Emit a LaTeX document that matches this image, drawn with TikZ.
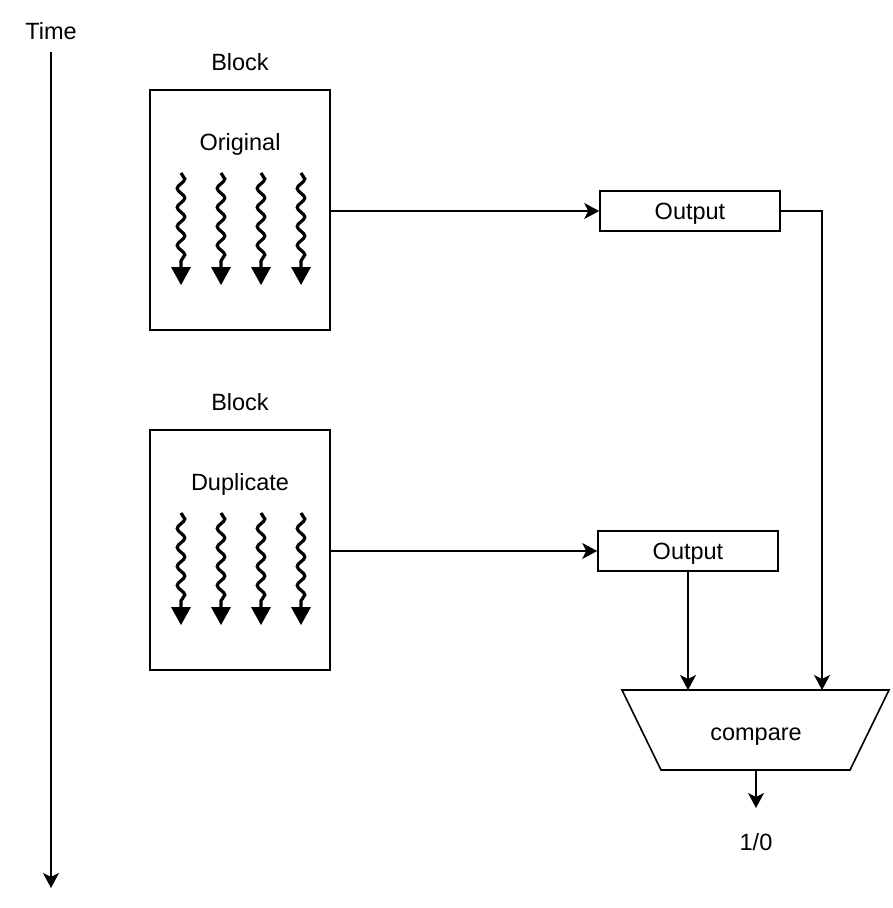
\documentclass[tikz,border=0pt]{standalone}
\usepackage{fontspec}
\setmainfont{Liberation Sans}
\usetikzlibrary{arrows.meta,decorations.pathmorphing}
\begin{document}
\begin{tikzpicture}[x=1pt,y=-1pt,
  every node/.style={font=\fontsize{23.5}{27}\selectfont, inner sep=0pt,
    text height=16.8pt, text depth=0pt},
  box/.style={draw, line width=1.6pt, inner sep=0pt},
  conn/.style={line width=1.6pt, -{Stealth[length=15pt,width=16pt,inset=4pt]}},
  wave/.style={line width=3.2pt, decorate,
    decoration={snake, amplitude=3.8pt, segment length=19pt}},
]
\useasboundingbox (0,0) rectangle (892,908);

% time axis
\node (time) at (51,31) {Time};
\coordinate (tStart) at (51,52);
\coordinate (tEnd) at (51,888);
\draw[conn] (tStart) -- (tEnd);

% original block
\node (blk1) at (240,62) {Block};
\node[box, minimum width=180pt, minimum height=240pt, text height=0pt] (orig) at (240,210) {};
\node (origlbl) at (240,142) {Original};

% duplicate block
\node (blk2) at (240,402) {Block};
\node[box, minimum width=180pt, minimum height=240pt, text height=0pt] (dup) at (240,550) {};
\node (duplbl) at (240,482) {Duplicate};

% threads inside the blocks
\foreach \y in {173,513} {
  \foreach \x in {181,221,261,301} {
    \draw[wave] (\x,\y) -- (\x,\y+95);
    \fill (\x-10,\y+94) -- (\x+10,\y+94) -- (\x,\y+112) -- cycle;
  }
}

% outputs
\node[box, minimum width=180pt, minimum height=40pt] (out1) at (690,211) {Output};
\node[box, minimum width=180pt, minimum height=40pt] (out2) at (688,551) {Output};

% comparator
\draw[line width=1.6pt] (622,690) -- (889,690) -- (850,770) -- (661,770) -- cycle;
\node (cmp) at (756,732) {compare};
\coordinate (cmpA) at (688,690);
\coordinate (cmpB) at (822,690);
\coordinate (cmpOut) at (756,770);
\coordinate (resTip) at (756,808);
\node (res) at (756,842) {1/0};

% connectors
\draw[conn] (orig.east |- out1.west) -- (out1.west);
\draw[conn] (dup.east |- out2.west) -- (out2.west);
\draw[conn] (out1.east) -| (cmpB);
\draw[conn] (out2.south) -- (cmpA);
\draw[conn] (cmpOut) -- (resTip);
\end{tikzpicture}
\end{document}
